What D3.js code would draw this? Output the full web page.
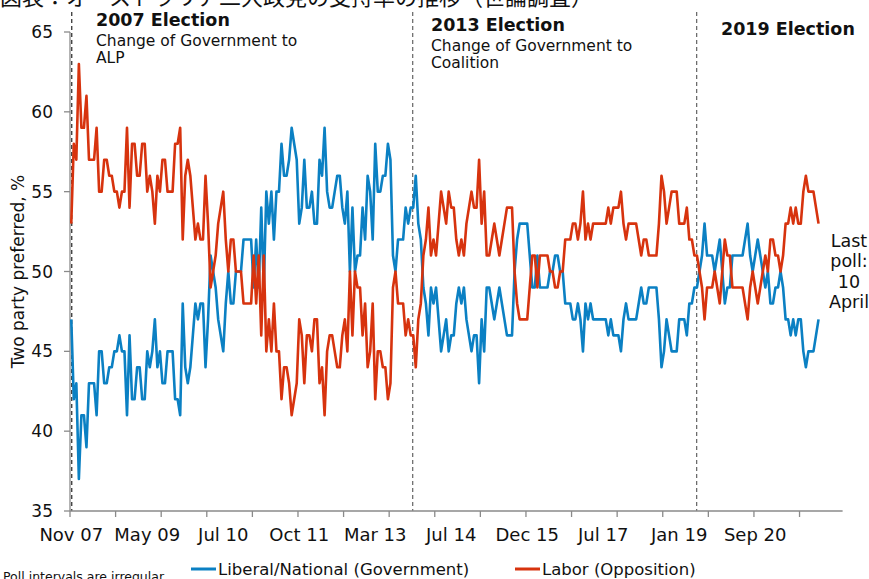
<!DOCTYPE html>
<html><head><meta charset="utf-8">
<script src="https://cdn.jsdelivr.net/npm/d3@7"></script>
<style>
html,body{margin:0;padding:0;background:#fff;overflow:hidden}
svg{display:block;font-family:"DejaVu Sans",Verdana,sans-serif}
</style></head><body>
<svg id="c" width="869" height="579"></svg>
<script>
// Two-party preferred, % (one value per poll; poll intervals irregular)
const coalition = [
47,42,43,37,41,41,39,43,43,43, 41,45,45,43,43,44,44,45,45,46,
45,45,41,46,42,42,44,44,42,42, 45,44,45,47,44,45,43,43,45,45,
45,42,42,41,48,44,43,44,46,48, 47,48,48,44,47,51,50,49,47,46,
45,48,50,48,48,50,50,50,52,52, 52,52,49,52,49,54,49,55,53,55,
52,55,55,58,56,56,57,59,58,57, 53,54,57,54,54,55,53,53,57,56,
59,55,54,54,55,56,56,54,53,55, 50,54,50,51,51,54,52,56,55,52,
58,55,55,56,56,58,57,51,50,52, 52,52,54,53,54,54,56,53,52,49,
48,46,49,48,49,47,45,46,47,45, 46,46,48,49,48,49,47,46,45,46,
46,43,47,45,49,49,48,47,48,49, 48,47,46,46,46,50,52,53,53,53,
53,51,49,49,51,49,49,49,49,50, 50,51,51,50,50,48,48,48,47,47,
48,47,45,48,47,48,47,47,47,47, 47,47,46,47,46,46,46,45,47,48,
47,47,47,47,48,49,48,48,49,49, 49,49,47,44,45,47,46,45,45,45,
47,47,47,46,48,48,49,49,50,51, 53,51,51,51,50,51,52,50,48,49,
49,51,51,51,51,51,52,53,51,50, 51,52,51,50,49,50,48,48,49,49,
50,49,47,47,46,47,46,47,47,45, 44,45,45,45,46,47
];
const labor = [
53,58,57,63,59,59,61,57,57,57, 59,55,55,57,57,56,56,55,55,54,
55,55,59,54,58,58,56,56,58,58, 55,56,55,53,56,55,57,57,55,55,
55,58,58,59,52,56,57,56,54,52, 53,52,52,56,53,49,50,51,53,54,
55,52,50,52,52,50,50,50,48,48, 48,48,51,48,51,46,51,45,47,45,
48,45,45,42,44,44,43,41,42,43, 47,46,43,46,46,45,47,47,43,44,
41,45,46,46,45,44,44,46,47,45, 50,46,50,49,49,46,48,44,45,48,
42,45,45,44,44,42,43,49,50,48, 48,48,46,47,46,46,44,47,48,51,
52,54,51,52,51,53,55,54,53,55, 54,54,52,51,52,51,53,54,55,54,
54,57,53,55,51,51,52,53,52,51, 52,53,54,54,54,50,48,47,47,47,
47,49,51,51,49,51,51,51,51,50, 50,49,49,50,50,52,52,52,53,53,
52,53,55,52,53,52,53,53,53,53, 53,53,54,53,54,54,54,55,53,52,
53,53,53,53,52,51,52,52,51,51, 51,51,53,56,55,53,54,55,55,55,
53,53,53,54,52,52,51,51,50,49, 47,49,49,49,50,49,48,50,52,51,
51,49,49,49,49,49,48,47,49,50, 49,48,49,50,51,50,52,52,51,51,
50,51,53,53,54,53,54,53,53,55, 56,55,55,55,54,53
];
const xTickLabels = ["Nov 07","May 09","Jul 10","Oct 11","Mar 13","Jul 14","Dec 15","Jul 17","Jan 19","Sep 20"];
const yTicks = [35,40,45,50,55,60,65];
const seriesNames = ["Liberal/National (Government)","Labor (Opposition)"];
const electionTitles = ["2007 Election","2013 Election","2019 Election"];
const electionSubs = [["Change of Government to","ALP"],["Change of Government to","Coalition"],[]];
const electionPos = [0.7, 135.3, 247.4];   // position in poll-category units
const lastPollNote = ["Last","poll:","10","April"];
const footNote = "Poll intervals are irregular";
const titleText = "図表：オーストラリア二大政党の支持率の推移（世論調査）";

const nCategories = 305, tickEvery = 18, labelEvery = 30;
const colors = ["#0B80C3", "#D7330E"];
const axisColor = "#8a8a8a";

const svg = d3.select("#c");
const L = 70, R = 842.6, T = 32, B = 511;
const x = d3.scaleLinear().domain([0, nCategories]).range([L, R]);
const y = d3.scaleLinear().domain([35, 65]).range([B, T]);

// cropped title at the very top
svg.append("text").attr("x", 0).attr("y", 5).attr("font-size", 22)
  .attr("font-family", "'Noto Sans CJK JP'").attr("fill", "#111").text(titleText);

// election dashed lines
svg.selectAll("line.el").data(electionPos).join("line")
  .attr("x1", d => x(d)).attr("x2", d => x(d)).attr("y1", 12).attr("y2", B)
  .attr("stroke", (d, i) => i === 0 ? "#111" : "#555").attr("stroke-width", 1.1)
  .attr("stroke-dasharray", "4,3");

// y axis
svg.append("line").attr("x1", L).attr("x2", L).attr("y1", T).attr("y2", B)
  .attr("stroke", axisColor).attr("stroke-width", 1.3);
const yt = svg.append("g");
yTicks.forEach(v => {
  yt.append("line").attr("x1", L - 6).attr("x2", L).attr("y1", y(v)).attr("y2", y(v))
    .attr("stroke", axisColor).attr("stroke-width", 1.3);
  yt.append("text").attr("x", L - 17).attr("y", y(v)).attr("dy", "0.36em")
    .attr("text-anchor", "end").attr("font-size", 17).attr("fill", "#111").text(v);
});
svg.append("text").attr("transform", `translate(24,${(T + B) / 2}) rotate(-90)`)
  .attr("text-anchor", "middle").attr("font-size", 17).attr("fill", "#111")
  .text("Two party preferred, %");

// x axis
svg.append("line").attr("x1", L).attr("x2", R).attr("y1", B).attr("y2", B)
  .attr("stroke", axisColor).attr("stroke-width", 1.3);
d3.range(0, nCategories, tickEvery).forEach(c => {
  svg.append("line").attr("x1", x(c)).attr("x2", x(c)).attr("y1", B).attr("y2", B + 6)
    .attr("stroke", axisColor).attr("stroke-width", 1.3);
});
xTickLabels.forEach((t, j) => {
  svg.append("text").attr("x", x(j * labelEvery + 0.5)).attr("y", 541)
    .attr("text-anchor", "middle").attr("font-size", 18).attr("fill", "#111").text(t);
});

// series lines
const line = d3.line().x((d, i) => x(i + 0.5)).y(d => y(d));
[coalition, labor].forEach((s, k) => {
  svg.append("path").datum(s).attr("d", line).attr("fill", "none")
    .attr("stroke", colors[k]).attr("stroke-width", 2.6).attr("stroke-linejoin", "round");
});

// election annotations
const annX = [96, 431, 721], annY = [26, 31, 35];
electionTitles.forEach((t, i) => {
  svg.append("text").attr("x", annX[i]).attr("y", annY[i]).attr("font-size", 17.5)
    .attr("font-weight", "bold").attr("fill", "#111").text(t);
  electionSubs[i].forEach((s, j) => {
    svg.append("text").attr("x", annX[i]).attr("y", annY[i] + 19.5 + j * 17.5)
      .attr("font-size", 15.5).attr("fill", "#111").text(s);
  });
});

// last poll note
lastPollNote.forEach((t, j) => {
  svg.append("text").attr("x", 849).attr("y", 247 + j * 20.3).attr("text-anchor", "middle")
    .attr("font-size", 17.5).attr("fill", "#111").text(t);
});

// legend
const legX = [191, 515];
seriesNames.forEach((n, k) => {
  svg.append("line").attr("x1", legX[k]).attr("x2", legX[k] + 25).attr("y1", 569).attr("y2", 569)
    .attr("stroke", colors[k]).attr("stroke-width", 3);
  svg.append("text").attr("x", legX[k] + 27).attr("y", 575).attr("font-size", 16.5)
    .attr("fill", "#111").text(n);
});

svg.append("text").attr("x", 3).attr("y", 581).attr("font-size", 12.5).attr("fill", "#111").text(footNote);
</script>
</body></html>
